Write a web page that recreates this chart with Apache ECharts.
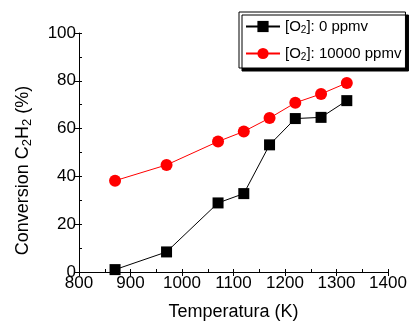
<!DOCTYPE html>
<html><head><meta charset="utf-8">
<script src="https://cdn.jsdelivr.net/npm/echarts@6/dist/echarts.min.js"></script>
<style>html,body{margin:0;padding:0;background:#fff}#c{width:411px;height:321px}</style>
</head><body><div id="c"></div>
<script>
const temps = [870, 970, 1070, 1120, 1170, 1220, 1270, 1320];
const conv0 = [1.0, 8.4, 28.9, 32.8, 53.2, 64.2, 64.7, 71.7];
const conv10000 = [38.2, 44.8, 54.6, 58.8, 64.4, 70.8, 74.5, 79.1];
const seriesNames = ['[O{sub|2}]: 0 ppmv', '[O{sub|2}]: 10000 ppmv'];
const xTicks = [800, 900, 1000, 1100, 1200, 1300, 1400];
const yTicks = [0, 20, 40, 60, 80, 100];

const FONT = 'Liberation Sans, Arial, sans-serif';
const chart = echarts.init(document.getElementById('c'), null, {renderer: 'canvas'});
const axisLine = {show: true, lineStyle: {color: '#000', width: 1}};
const subRich = {sub: {fontSize: 10, fontFamily: FONT, color: '#000', padding: [7, 0, 0, 0]}};

chart.setOption({
  animation: false,
  backgroundColor: '#fff',
  grid: {left: 79, right: 23, top: 33, bottom: 49, containLabel: false, outerBoundsMode: 'none'},
  legend: {
    orient: 'vertical', left: 239, top: 12,
    padding: [7, 4, 6, 6], itemGap: 11,
    itemWidth: 34, itemHeight: 14,
    backgroundColor: '#fff', borderColor: '#000', borderWidth: 1,
    shadowColor: '#000', shadowOffsetX: 3, shadowOffsetY: 3, shadowBlur: 0,
    textStyle: {fontFamily: FONT, fontSize: 15, color: '#000', rich: subRich},
    data: seriesNames
  },
  xAxis: [{
    type: 'value', min: xTicks[0], max: xTicks[xTicks.length - 1], interval: 100,
    name: 'Temperatura (K)', nameLocation: 'middle', nameGap: 31,
    nameTextStyle: {fontFamily: FONT, fontSize: 18, color: '#000'},
    axisLine: axisLine,
    axisTick: {show: true, inside: false, length: 4, lineStyle: {color: '#000'}},
    axisLabel: {fontFamily: FONT, fontSize: 17, color: '#000', margin: 3, formatter: v => String(v)},
    splitLine: {show: false}
  }, {
    type: 'value', min: xTicks[0], max: xTicks[xTicks.length - 1], interval: 50,
    position: 'bottom',
    axisLine: {show: false},
    axisTick: {show: true, inside: true, length: 3, lineStyle: {color: '#000'}},
    axisLabel: {show: false}, splitLine: {show: false}
  }],
  yAxis: [{
    type: 'value', min: yTicks[0], max: yTicks[yTicks.length - 1], interval: 20,
    name: 'Conversion C{sub|2}H{sub|2} (%)', nameLocation: 'middle', nameGap: 45,
    nameTextStyle: {fontFamily: FONT, fontSize: 18, color: '#000', padding: [0, 36, 0, 0],
      rich: {sub: {fontSize: 13, fontFamily: FONT, color: '#000', padding: [9, 0, 0, 0]}}},
    axisLine: axisLine,
    axisTick: {show: true, inside: false, length: 4, lineStyle: {color: '#000'}},
    axisLabel: {fontFamily: FONT, fontSize: 17, color: '#000', margin: 3},
    splitLine: {show: false}
  }, {
    type: 'value', min: yTicks[0], max: yTicks[yTicks.length - 1], interval: 10,
    position: 'left',
    axisLine: {show: false},
    axisTick: {show: true, inside: true, length: 3, lineStyle: {color: '#000'}},
    axisLabel: {show: false}, splitLine: {show: false}
  }],
  series: [{
    name: seriesNames[0], type: 'line', xAxisIndex: 0, yAxisIndex: 0,
    data: temps.map((t, i) => [t, conv0[i]]),
    symbol: 'rect', symbolSize: 11,
    lineStyle: {color: '#000', width: 1}, itemStyle: {color: '#000'}, z: 3
  }, {
    name: seriesNames[1], type: 'line', xAxisIndex: 0, yAxisIndex: 0,
    data: temps.map((t, i) => [t, conv10000[i]]),
    symbol: 'circle', symbolSize: 12,
    lineStyle: {color: '#ff0000', width: 1}, itemStyle: {color: '#ff0000'}, z: 2
  }]
});
</script></body></html>
